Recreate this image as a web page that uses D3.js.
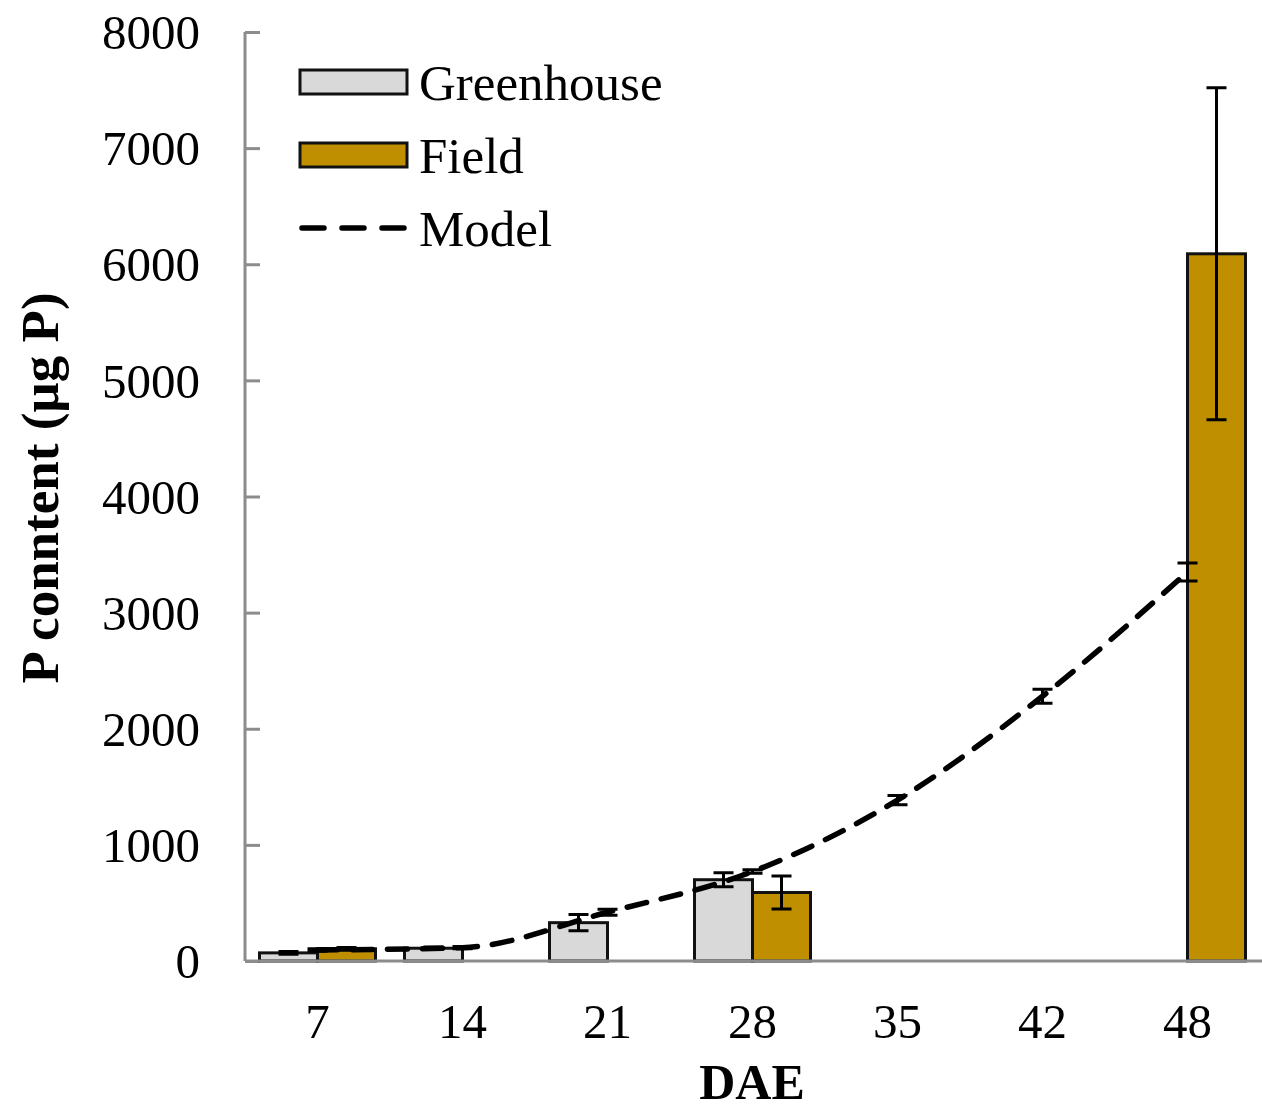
<!DOCTYPE html>
<html>
<head>
<meta charset="utf-8">
<script src="https://cdn.jsdelivr.net/npm/d3@7"></script>
<style>
  html, body { margin: 0; padding: 0; background: #fff; }
  svg { display: block; }
  text { font-family: "Liberation Serif", "Times New Roman", serif; fill: #000; }
</style>
</head>
<body>
<svg id="chart" width="1262" height="1113"></svg>
<script>
// ---- data ----
const categories = ["7", "14", "21", "28", "35", "42", "48"];
const greenhouse = [70, 110, 330, 700, null, null, null];
const greenhouseErr = [12, 10, 70, 60, null, null, null];
const field = [105, null, null, 590, null, null, 6090];
const fieldErr = [12, null, null, 142, null, null, 1430];
const model = [95, 115, 420, 770, 1385, 2280, 3350];
const modelErr = [10, 10, 25, 15, 40, 60, 78];
const yTicks = [0, 1000, 2000, 3000, 4000, 5000, 6000, 7000, 8000];
const seriesNames = ["Greenhouse", "Field"];
const colors = { Greenhouse: "#d9d9d9", Field: "#bf8f00" };

(function () {
// ---- layout ----
const svg = d3.select("#chart");
const pLeft = 245, pRight = 1260, pTop = 32, pBottom = 961;

const x = d3.scaleBand().domain(categories).range([pLeft, pRight]).paddingInner(0.2).paddingOuter(0.1);
const xSub = d3.scaleBand().domain(seriesNames).range([0, x.bandwidth()]);
const y = d3.scaleLinear().domain([0, 8000]).range([pBottom, pTop]);

const axisColor = "#8c8c8c";

// y axis (ticks inward)
const yAxis = svg.append("g").attr("transform", `translate(${pLeft},0)`)
  .call(d3.axisRight(y).tickValues(yTicks).tickSize(15).tickFormat(""));
yAxis.select(".domain").attr("stroke", axisColor).attr("stroke-width", 3)
  .attr("d", `M0,${pTop}V${pBottom}`);
yAxis.selectAll(".tick line").attr("stroke", axisColor).attr("stroke-width", 3);

// y tick labels
svg.append("g").selectAll("text").data(yTicks).join("text")
  .attr("x", 200).attr("y", d => y(d)).attr("dy", "0.35em")
  .attr("text-anchor", "end").attr("font-size", 49).text(d => d);

// bars
const series = [
  { name: "Greenhouse", vals: greenhouse, errs: greenhouseErr },
  { name: "Field", vals: field, errs: fieldErr }
];
const barData = [];
series.forEach(s => categories.forEach((c, i) => {
  if (s.vals[i] != null) barData.push({ s: s.name, c, v: s.vals[i], e: s.errs[i] });
}));

svg.append("g").selectAll("rect").data(barData).join("rect")
  .attr("x", d => x(d.c) + xSub(d.s))
  .attr("y", d => y(d.v))
  .attr("width", xSub.bandwidth())
  .attr("height", d => y(0) - y(d.v))
  .attr("fill", d => colors[d.s])
  .attr("stroke", "#111").attr("stroke-width", 3);

// x axis
svg.append("line").attr("x1", pLeft).attr("x2", 1262).attr("y1", pBottom).attr("y2", pBottom)
  .attr("stroke", axisColor).attr("stroke-width", 3);

// bar error bars
const cap = 10;
const eb = svg.append("g").attr("stroke", "#000").attr("stroke-width", 3).attr("fill", "none");
barData.forEach(d => {
  const cx = x(d.c) + xSub(d.s) + xSub.bandwidth() / 2;
  const y1 = y(d.v + d.e), y0 = y(d.v - d.e);
  eb.append("path").attr("d", `M${cx},${y0}V${y1}M${cx - cap},${y1}H${cx + cap}M${cx - cap},${y0}H${cx + cap}`);
});

// model line
const modelPts = categories.map((c, i) => ({ c, v: model[i], e: modelErr[i] }));
const line = d3.line().x(d => x(d.c) + x.bandwidth() / 2).y(d => y(d.v)).curve(d3.curveMonotoneX);
svg.append("path").datum(modelPts).attr("d", line)
  .attr("fill", "none").attr("stroke", "#000").attr("stroke-width", 5.5)
  .attr("stroke-dasharray", "20,15").attr("stroke-linecap", "round");

const meb = svg.append("g").attr("stroke", "#000").attr("stroke-width", 3).attr("fill", "none");
modelPts.forEach(d => {
  const cx = x(d.c) + x.bandwidth() / 2;
  const y1 = y(d.v + d.e), y0 = y(d.v - d.e);
  meb.append("path").attr("d", `M${cx},${y0}V${y1}M${cx - cap},${y1}H${cx + cap}M${cx - cap},${y0}H${cx + cap}`);
});

// x tick labels
svg.append("g").selectAll("text").data(categories).join("text")
  .attr("x", d => x(d) + x.bandwidth() / 2).attr("y", 1038)
  .attr("text-anchor", "middle").attr("font-size", 49).text(d => d);

// axis titles
svg.append("text").attr("x", 752).attr("y", 1099).attr("text-anchor", "middle")
  .attr("font-size", 50).attr("font-weight", "bold").text("DAE");
svg.append("text").attr("transform", "translate(58,488) rotate(-90)")
  .attr("text-anchor", "middle").attr("font-size", 53).attr("font-weight", "bold")
  .text("P conntent (µg P)");

// legend
const lg = svg.append("g");
const legendItems = [
  { name: "Greenhouse", type: "rect", yc: 82 },
  { name: "Field", type: "rect", yc: 155 },
  { name: "Model", type: "line", yc: 228 }
];
legendItems.forEach(it => {
  if (it.type === "rect") {
    lg.append("rect").attr("x", 300).attr("y", it.yc - 12).attr("width", 107).attr("height", 24)
      .attr("fill", colors[it.name]).attr("stroke", "#111").attr("stroke-width", 3);
  } else {
    lg.append("line").attr("x1", 302).attr("x2", 405).attr("y1", it.yc).attr("y2", it.yc)
      .attr("stroke", "#000").attr("stroke-width", 5.5).attr("stroke-linecap", "round")
      .attr("stroke-dasharray", "22,18");
  }
  lg.append("text").attr("x", 419).attr("y", it.yc).attr("dy", "0.35em")
    .attr("font-size", 51).text(it.name);
});
})();
</script>
</body>
</html>
